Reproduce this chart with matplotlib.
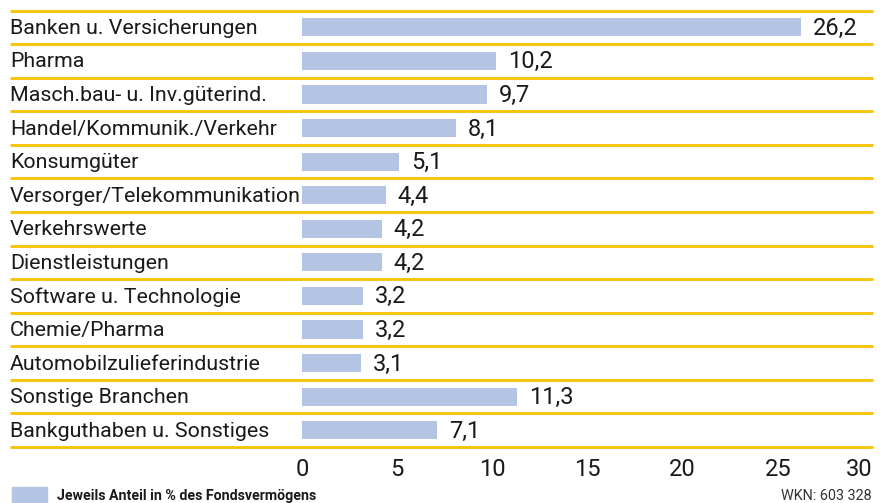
import numpy as np
import matplotlib.pyplot as plt
from matplotlib.patches import Rectangle

kategorien = [
    "Banken u. Versicherungen",
    "Pharma",
    "Masch.bau- u. Inv.güterind.",
    "Handel/Kommunik./Verkehr",
    "Konsumgüter",
    "Versorger/Telekommunikation",
    "Verkehrswerte",
    "Dienstleistungen",
    "Software u. Technologie",
    "Chemie/Pharma",
    "Automobilzulieferindustrie",
    "Sonstige Branchen",
    "Bankguthaben u. Sonstiges",
]
anteile = [26.2, 10.2, 9.7, 8.1, 5.1, 4.4, 4.2, 4.2, 3.2, 3.2, 3.1, 11.3, 7.1]
x_ticks = [0, 5, 10, 15, 20, 25, 30]

BALKEN = "#b4c5e4"
GOLD = "#f7c200"
TEXT = "#1a1a1a"
FS = 15.4

plt.rcParams['font.family'] = ['Roboto', 'DejaVu Sans']

fig = plt.figure(figsize=(8.86, 5.03), dpi=100)
ax = fig.add_axes([302/886, 1 - 447/503, (873 - 302)/886, (447 - 10.5)/503])

y = np.arange(len(kategorien))
ax.barh(y, anteile, height=0.54, color=BALKEN)
ax.set_xlim(0, 30)
ax.set_ylim(len(kategorien) - 0.5, -0.5)

# goldene Trennlinien
x_links = (10 - 302) / (873 - 302)
for k in range(len(kategorien) + 1):
    ax.plot([x_links, 1], [k - 0.5, k - 0.5], transform=ax.get_yaxis_transform(),
            color=GOLD, lw=2.0, clip_on=False, solid_capstyle='butt')

for i, (name, wert) in enumerate(zip(kategorien, anteile)):
    ax.text(x_links, i + 0.03, name, transform=ax.get_yaxis_transform(),
            ha='left', va='center', fontsize=FS, color=TEXT)
    ax.text(wert + 0.62, i + 0.03, f"{wert:.1f}".replace(".", ","),
            ha='left', va='center', fontsize=17, color=TEXT)

for spine in ax.spines.values():
    spine.set_visible(False)
ax.set_yticks([])
ax.set_xticks(x_ticks)
ax.set_xticklabels([str(t) for t in x_ticks], fontsize=17, color=TEXT)
ax.tick_params(axis='x', length=0, pad=8)
ax.get_xticklabels()[-1].set_horizontalalignment('right')

# Legende unten
fig.patches.append(Rectangle((12/886, 0), 35/886, 16/503, transform=fig.transFigure,
                             color=BALKEN))
fig.text(57/886, 7/503, "Jeweils Anteil in % des Fondsvermögens", ha='left', va='center',
         fontsize=10.2, fontweight='bold', color=TEXT)
fig.text(872/886, 7/503, "WKN: 603 328", ha='right', va='center', fontsize=10.4,
         color="#333333")

fig.savefig("out.png", dpi=100)
